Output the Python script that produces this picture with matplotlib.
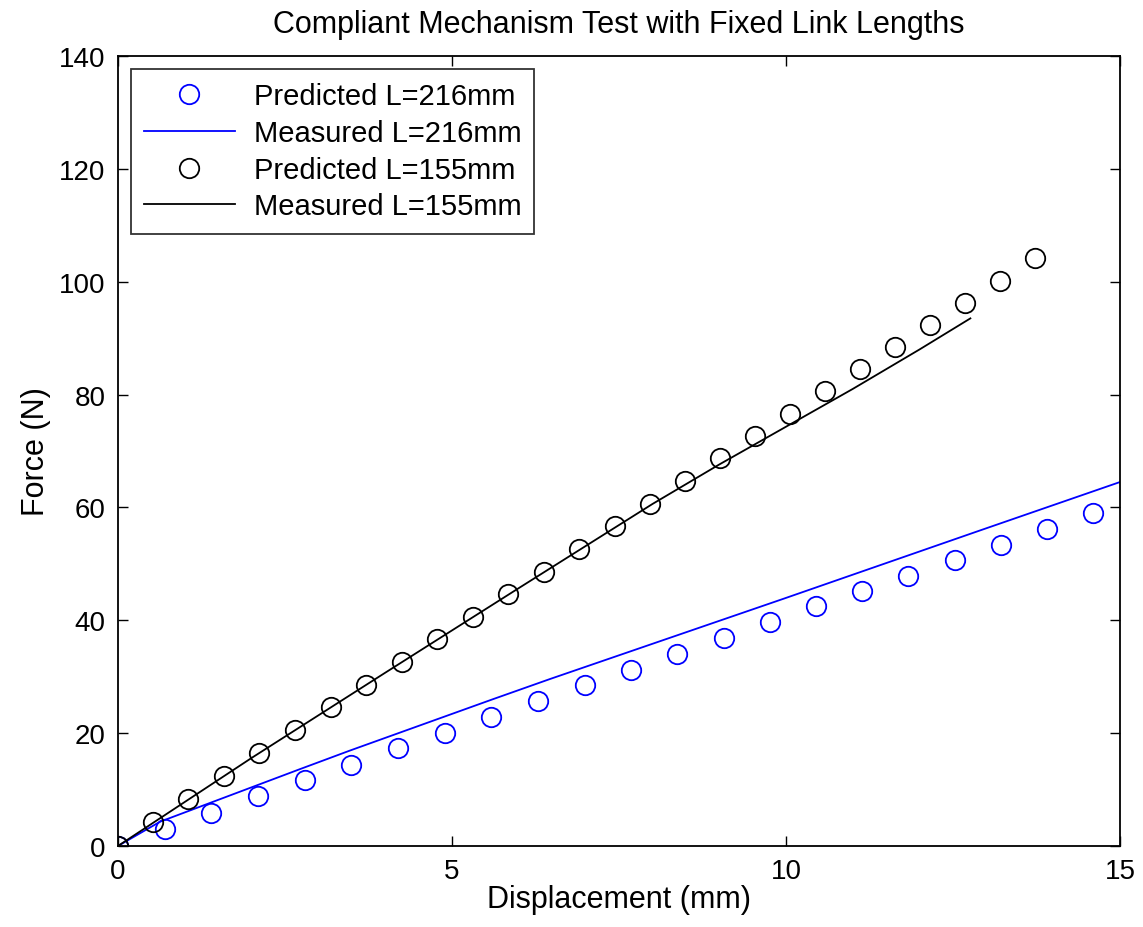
import matplotlib
matplotlib.use('agg')
import matplotlib.pyplot as plt
import numpy as np

plt.rcParams['font.family'] = ['Liberation Sans', 'DejaVu Sans']

# Predicted L=216mm (cercles bleus)
pred216_x = [0, 0.70, 1.39, 2.10, 2.80, 3.49, 4.19, 4.90, 5.58, 6.29, 6.99,
             7.68, 8.37, 9.07, 9.76, 10.45, 11.14, 11.83, 12.53, 13.22, 13.91, 14.60]
pred216_y = [0, 3.0, 5.85, 8.9, 11.7, 14.4, 17.4, 20.0, 22.9, 25.7, 28.5,
             31.2, 34.0, 36.9, 39.7, 42.5, 45.2, 47.8, 50.7, 53.3, 56.2, 59.0]

# Measured L=216mm (ligne bleue)
meas216_x = [0, 0.63, 2.72, 3.47, 5.61, 6.47, 9.96, 12.9, 15.0]
meas216_y = [0, 4.3, 13.6, 16.9, 26.0, 29.6, 43.8, 55.9, 64.5]

# Predicted L=155mm (cercles noirs)
pred155_x = [0, 0.52, 1.05, 1.59, 2.11, 2.65, 3.19, 3.71, 4.25, 4.78, 5.31,
             5.84, 6.38, 6.90, 7.44, 7.96, 8.49, 9.01, 9.54, 10.06, 10.58,
             11.11, 11.63, 12.16, 12.68, 13.20, 13.73]
pred155_y = [0, 4.25, 8.3, 12.4, 16.5, 20.6, 24.6, 28.5, 32.6, 36.7, 40.6,
             44.7, 48.6, 52.6, 56.7, 60.6, 64.7, 68.8, 72.7, 76.6, 80.6,
             84.5, 88.4, 92.3, 96.2, 100.1, 104.2]

# Measured L=155mm (ligne noire)
meas155_x = [0, 2.0, 4.0, 6.0, 8.0, 9.0, 10.0, 11.0, 12.0, 12.76]
meas155_y = [0, 15.6, 30.7, 45.7, 60.6, 67.6, 74.3, 81.0, 88.0, 93.5]

fig = plt.figure(figsize=(11.43, 9.28), dpi=100)
ax = fig.add_axes([0.1032, 0.0873, 0.8767, 0.8513])

ax.plot(pred216_x, pred216_y, 'o', color='blue', mfc='none', ms=14, mew=1.3,
        label='Predicted L=216mm')
ax.plot(meas216_x, meas216_y, '-', color='blue', lw=1.3, label='Measured L=216mm')
ax.plot(pred155_x, pred155_y, 'o', color='black', mfc='none', ms=14, mew=1.3,
        label='Predicted L=155mm')
ax.plot(meas155_x, meas155_y, '-', color='black', lw=1.3, label='Measured L=155mm')

ax.set_xlim(0, 15)
ax.set_ylim(0, 140)
ax.set_xticks([0, 5, 10, 15])
ax.set_yticks(np.arange(0, 141, 20))
ax.tick_params(direction='in', top=True, right=True, labelsize=20, length=7,
               width=1, pad=9)
for s in ax.spines.values():
    s.set_linewidth(1.3)

ax.set_title('Compliant Mechanism Test with Fixed Link Lengths', fontsize=22, pad=17)
ax.set_xlabel('Displacement (mm)', fontsize=22, labelpad=0)
ax.set_ylabel('Force (N)', fontsize=22, labelpad=6)

leg = ax.legend(loc='upper left', fontsize=21, frameon=True, fancybox=False,
                edgecolor='black', borderaxespad=0.45, handlelength=3.1,
                handletextpad=0.65, labelspacing=0.3, borderpad=0.45)
leg.get_frame().set_linewidth(1.3)

fig.savefig('out.png', dpi=100)
